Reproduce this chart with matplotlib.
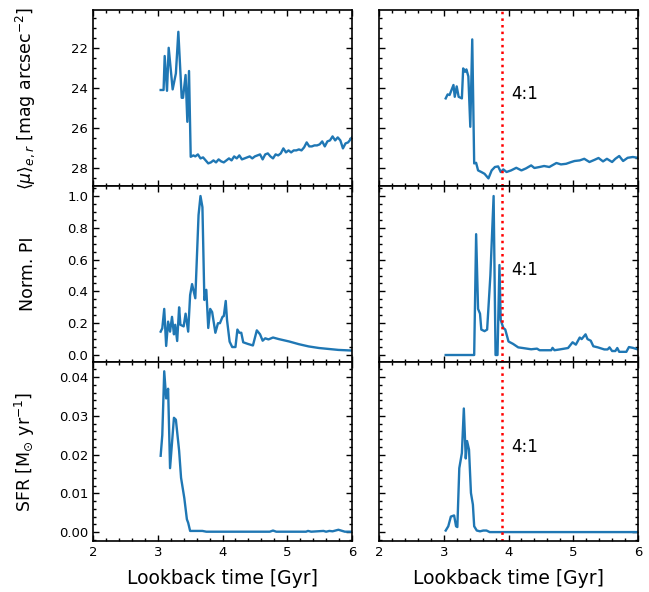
import matplotlib
matplotlib.use("Agg")
import matplotlib.pyplot as plt
from matplotlib.ticker import AutoMinorLocator

# ---- data: top-left (surface brightness) ----
mu_l_t = [3.045, 3.09, 3.107, 3.143, 3.169, 3.23, 3.28, 3.318, 3.37, 3.39, 3.43, 3.457, 3.483, 3.509,
          3.55, 3.58, 3.62, 3.66, 3.70, 3.74, 3.78, 3.82, 3.86, 3.90, 3.94, 3.98, 4.02, 4.06, 4.10,
          4.14, 4.18, 4.22, 4.26, 4.30, 4.34, 4.38, 4.42, 4.46, 4.50, 4.54, 4.58, 4.62, 4.66, 4.70,
          4.74, 4.78, 4.82, 4.86, 4.90, 4.94, 4.98, 5.02, 5.06, 5.10, 5.14, 5.18, 5.22, 5.26, 5.30,
          5.34, 5.38, 5.42, 5.46, 5.50, 5.54, 5.58, 5.62, 5.66, 5.70, 5.74, 5.78, 5.82, 5.86, 5.90,
          5.94, 6.0]
mu_l_v = [24.08, 24.08, 22.38, 24.12, 21.97, 24.05, 23.25, 21.17, 24.47, 24.47, 23.33, 25.67, 23.13, 27.42,
          27.35, 27.40, 27.30, 27.50, 27.45, 27.60, 27.75, 27.70, 27.60, 27.70, 27.55, 27.65, 27.70, 27.60, 27.50,
          27.60, 27.40, 27.50, 27.35, 27.55, 27.50, 27.45, 27.40, 27.50, 27.40, 27.35, 27.30, 27.55, 27.30, 27.25,
          27.40, 27.50, 27.30, 27.35, 27.25, 27.00, 27.20, 27.10, 27.20, 27.10, 27.10, 27.05, 27.10, 26.95, 26.70,
          26.90, 26.90, 26.85, 26.85, 26.80, 26.65, 26.90, 26.65, 26.60, 26.40, 26.60, 26.45, 26.60, 27.00, 26.75,
          26.70, 26.45]

# ---- data: top-right ----
mu_r_t = [3.03, 3.06, 3.09, 3.15, 3.17, 3.20, 3.23, 3.28, 3.30, 3.33, 3.35, 3.38, 3.41, 3.44, 3.47, 3.50,
          3.53, 3.58, 3.63, 3.69, 3.74, 3.79, 3.84, 3.88, 3.92, 3.97, 4.04, 4.12, 4.20, 4.27, 4.35, 4.40,
          4.48, 4.55, 4.63, 4.74, 4.81, 4.89, 4.97, 5.02, 5.10, 5.17, 5.25, 5.33, 5.39, 5.46, 5.52, 5.60,
          5.65, 5.71, 5.77, 5.84, 5.92, 6.0]
mu_r_v = [24.50, 24.30, 24.33, 23.83, 24.42, 23.90, 24.42, 24.50, 23.00, 23.17, 23.05, 23.40, 25.92, 21.55, 27.75, 27.72,
          28.10, 28.18, 28.27, 28.50, 28.10, 27.93, 27.90, 28.18, 28.05, 28.18, 28.10, 27.97, 28.10, 28.00, 27.85, 27.98,
          27.93, 27.88, 27.93, 27.73, 27.80, 27.77, 27.68, 27.63, 27.60, 27.52, 27.68, 27.57, 27.48, 27.65, 27.52, 27.68,
          27.52, 27.38, 27.63, 27.47, 27.43, 27.47]

# ---- data: middle-left (normalised PI) ----
pi_l_t = [3.045, 3.07, 3.10, 3.13, 3.16, 3.19, 3.22, 3.25, 3.27, 3.30, 3.33, 3.35, 3.40, 3.43, 3.47, 3.50,
          3.53, 3.58, 3.63, 3.66, 3.69, 3.72, 3.75, 3.78, 3.81, 3.84, 3.89, 3.93, 3.96, 4.00, 4.02, 4.05,
          4.07, 4.11, 4.15, 4.20, 4.23, 4.26, 4.29, 4.32, 4.39, 4.47, 4.53, 4.58, 4.62, 4.66, 4.71, 4.78,
          4.87, 5.03, 5.18, 5.33, 5.49, 5.64, 5.79, 6.0]
pi_l_v = [0.147, 0.168, 0.29, 0.057, 0.21, 0.147, 0.24, 0.13, 0.19, 0.088, 0.30, 0.19, 0.18, 0.26, 0.147, 0.377,
          0.446, 0.357, 0.88, 1.0, 0.93, 0.346, 0.41, 0.17, 0.29, 0.27, 0.14, 0.20, 0.20, 0.24, 0.245, 0.34,
          0.22, 0.084, 0.05, 0.05, 0.16, 0.14, 0.14, 0.08, 0.07, 0.06, 0.155, 0.13, 0.09, 0.105, 0.098, 0.11,
          0.10, 0.085, 0.068, 0.054, 0.044, 0.038, 0.032, 0.028]

# ---- data: middle-right ----
pi_r_t = [3.03, 3.47, 3.50, 3.53, 3.56, 3.58, 3.63, 3.67, 3.72, 3.77, 3.80, 3.83, 3.86, 3.88, 3.92, 3.95,
          4.00, 4.07, 4.15, 4.22, 4.35, 4.44, 4.48, 4.66, 4.68, 4.71, 4.79, 4.92, 4.99, 5.04, 5.10, 5.13,
          5.19, 5.22, 5.27, 5.31, 5.38, 5.48, 5.53, 5.56, 5.60, 5.65, 5.68, 5.71, 5.82, 5.86, 5.92, 6.0]
pi_r_v = [0.0, 0.0, 0.76, 0.29, 0.26, 0.16, 0.15, 0.16, 0.50, 1.0, 0.0, 0.0, 0.566, 0.22, 0.17, 0.16,
          0.085, 0.07, 0.048, 0.044, 0.036, 0.04, 0.03, 0.03, 0.045, 0.03, 0.035, 0.044, 0.08, 0.065, 0.11, 0.10,
          0.13, 0.10, 0.09, 0.055, 0.048, 0.035, 0.035, 0.048, 0.025, 0.025, 0.044, 0.02, 0.02, 0.05, 0.045, 0.035]

# ---- data: bottom-left (SFR) ----
sfr_l_t = [3.045, 3.07, 3.10, 3.13, 3.16, 3.19, 3.22, 3.25, 3.28, 3.33, 3.36, 3.41, 3.45, 3.47, 3.50,
           3.69, 3.75, 4.73, 4.78, 4.83, 5.29, 5.32, 5.37, 5.56, 5.60, 5.65, 5.70, 5.79, 5.89, 6.0]
sfr_l_v = [0.0197, 0.025, 0.0415, 0.0345, 0.037, 0.0165, 0.023, 0.0295, 0.029, 0.021, 0.014, 0.0088, 0.0033,
           0.0024, 0.0003, 0.0003, 0.0001, 0.0001, 0.0004, 0.0001, 0.0001, 0.0003, 0.0001, 0.0003, 0.0001,
           0.0003, 0.0002, 0.0006, 0.0001, 0.0001]

# ---- data: bottom-right ----
sfr_r_t = [3.03, 3.07, 3.11, 3.16, 3.19, 3.21, 3.24, 3.28, 3.31, 3.34, 3.36, 3.39, 3.42, 3.45, 3.47,
           3.51, 3.56, 3.61, 3.66, 3.71, 6.0]
sfr_r_v = [0.0004, 0.0015, 0.004, 0.0043, 0.0015, 0.0013, 0.0165, 0.0204, 0.0319, 0.019, 0.0235, 0.0213,
           0.0101, 0.0071, 0.0015, 0.0004, 0.0002, 0.0004, 0.0004, 0.0, 0.0]

merger_time = 3.9
merger_label = "4:1"
xlabel = "Lookback time [Gyr]"
ylabels = [r"$\langle\mu\rangle_{e,r}$ [mag arcsec$^{-2}$]", "Norm. PI",
           r"SFR [M$_{\odot}$ yr$^{-1}$]"]

rows = [
    ((mu_l_t, mu_l_v), (mu_r_t, mu_r_v)),
    ((pi_l_t, pi_l_v), (pi_r_t, pi_r_v)),
    ((sfr_l_t, sfr_l_v), (sfr_r_t, sfr_r_v)),
]
ylims = [(28.88, 20.08), (-0.044, 1.063), (-0.0023, 0.0439)]
yticks = [[22, 24, 26, 28], [0.0, 0.2, 0.4, 0.6, 0.8, 1.0], [0.00, 0.01, 0.02, 0.03, 0.04]]
ytickfmt = ["{:.0f}", "{:.1f}", "{:.2f}"]

fig = plt.figure(figsize=(6.49, 5.92), dpi=100)
L0, L1 = 93 / 649, 352 / 649
R0, R1 = 379 / 649, 638 / 649
tops = [10, 186, 362]
bots = [186, 362, 541]
color = "#1f77b4"

for i, ((lt, lv), (rt, rv)) in enumerate(rows):
    y0 = 1 - bots[i] / 592
    h = (bots[i] - tops[i]) / 592
    axl = fig.add_axes([L0, y0, L1 - L0, h])
    axr = fig.add_axes([R0, y0, R1 - R0, h])
    axl.plot(lt, lv, color=color, lw=1.7)
    axr.plot(rt, rv, color=color, lw=1.7)
    axr.axvline(merger_time, color="red", ls=":", lw=1.8)
    axr.text(4.05, 0.525, merger_label, transform=axr.get_xaxis_transform(),
             fontsize=12, va="center", ha="left")
    for ax in (axl, axr):
        ax.set_xlim(2, 6)
        ax.set_ylim(*ylims[i])
        ax.set_yticks(yticks[i])
        ax.set_xticks([2, 3, 4, 5, 6])
        ax.xaxis.set_minor_locator(AutoMinorLocator())
        ax.yaxis.set_minor_locator(AutoMinorLocator())
        ax.tick_params(which="both", direction="in", top=True, right=True, labelsize=9.5)
        ax.tick_params(which="major", length=4, width=1)
        ax.tick_params(which="minor", length=2.5, width=1)
        for s in ax.spines.values():
            s.set_linewidth(1.2)
    axl.set_yticklabels([ytickfmt[i].format(v) for v in yticks[i]])
    axr.set_yticklabels([])
    axl.set_ylabel(ylabels[i], fontsize=12.5)
    axl.yaxis.set_label_coords(-0.215, 0.5)
    if i < 2:
        axl.set_xticklabels([])
        axr.set_xticklabels([])
    else:
        axl.set_xlabel(xlabel, fontsize=13.5, labelpad=7)
        axr.set_xlabel(xlabel, fontsize=13.5, labelpad=7)

fig.savefig("out.png", dpi=100)
